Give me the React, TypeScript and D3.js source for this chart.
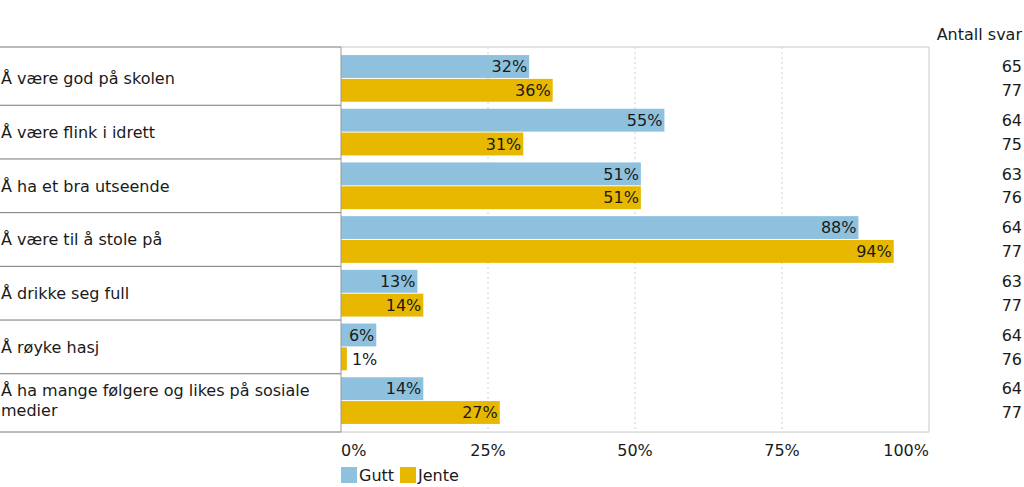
import React from "react";
import * as d3 from "d3";

const categories = [
  "Å være god på skolen",
  "Å være flink i idrett",
  "Å ha et bra utseende",
  "Å være til å stole på",
  "Å drikke seg full",
  "Å røyke hasj",
  "Å ha mange følgere og likes på sosiale medier",
];
const seriesNames = ["Gutt", "Jente"];
const gutt = [32, 55, 51, 88, 13, 6, 14];
const jente = [36, 31, 51, 94, 14, 1, 27];
const guttN = [65, 64, 63, 64, 63, 64, 64];
const jenteN = [77, 75, 76, 77, 77, 76, 77];
const xTicks = [0, 25, 50, 75, 100];
const countTitle = "Antall svar";

const colors = ["#8ec1de", "#e8b800"];
const FONT = "'DejaVu Sans', Verdana, sans-serif";
const FS = 16;

function wrap(text: string, maxW: number): string[] {
  const c = document.createElement("canvas").getContext("2d")!;
  c.font = `${FS}px ${FONT}`;
  const words = text.split(" ");
  const lines: string[] = [];
  let cur = "";
  for (const w of words) {
    const t = cur ? cur + " " + w : w;
    if (c.measureText(t).width > maxW && cur) {
      lines.push(cur);
      cur = w;
    } else cur = t;
  }
  if (cur) lines.push(cur);
  return lines;
}

export default function App() {
  const W = 1024, H = 487;
  const left = 341, right = 929, top = 47, bottom = 432;
  const x = d3.scaleLinear().domain([0, 100]).range([left, right]);
  const y = d3.scaleBand<string>().domain(categories).range([top, bottom]).paddingInner(0.13).paddingOuter(0.15);
  const ys = d3.scaleBand<string>().domain(seriesNames).range([0, y.bandwidth()]).paddingInner(0.04);
  const values = [gutt, jente];
  const counts = [guttN, jenteN];
  const step = y.step();

  return (
    <svg width={W} height={H} style={{ position: "absolute", left: 0, top: 0, fontFamily: FONT }}>
      <rect width={W} height={H} fill="#fff" />
      {/* grid */}
      {xTicks.slice(1, -1).map((t) => (
        <line key={t} x1={x(t)} x2={x(t)} y1={top} y2={bottom} stroke="#d0d0d0" strokeDasharray="2,3" />
      ))}
      {/* plot frame */}
      <line x1={left} x2={right} y1={top} y2={top} stroke="#c8c8c8" />
      <line x1={right} x2={right} y1={top} y2={bottom} stroke="#c8c8c8" />
      <line x1={left} x2={right} y1={bottom} y2={bottom} stroke="#c8c8c8" />
      {/* left table lines */}
      {categories.slice(1).map((c, i) => {
        const ly = y(c)! - (step - y.bandwidth()) / 2;
        return <line key={"sep" + i} x1={0} x2={left} y1={ly} y2={ly} stroke="#777" />;
      })}
      <line x1={0} x2={left} y1={top} y2={top} stroke="#777" />
      <line x1={0} x2={left} y1={bottom} y2={bottom} stroke="#777" />
      {/* bars */}
      {categories.map((c, i) =>
        seriesNames.map((s, si) => {
          const v = values[si][i];
          const by = y(c)! + ys(s)!;
          const bh = ys.bandwidth();
          const x1 = x(v);
          const inside = x1 - left > 30;
          return (
            <g key={c + s}>
              <rect x={left} y={by} width={x1 - left} height={bh} fill={colors[si]} />
              <text
                x={inside ? x1 - 2 : x1 + 5}
                y={by + bh / 2}
                dy="0.36em"
                textAnchor={inside ? "end" : "start"}
                fontSize={FS}
                fill="#1a1a1a"
              >
                {v}%
              </text>
              <text x={1022} y={by + bh / 2} dy="0.36em" textAnchor="end" fontSize={FS} fill="#1a1a1a">
                {counts[si][i]}
              </text>
            </g>
          );
        })
      )}
      {/* axis line */}
      <line x1={left} x2={left} y1={top} y2={bottom} stroke="#999" />
      {/* category labels */}
      {categories.map((c) => {
        const lines = wrap(c, 325);
        const cy = y(c)! + y.bandwidth() / 2;
        const lh = 20;
        return (
          <text key={c} fontSize={FS} fill="#1a1a1a">
            {lines.map((l, li) => (
              <tspan key={li} x={1} y={cy + (li - (lines.length - 1) / 2) * lh} dy="0.36em">
                {l}
              </tspan>
            ))}
          </text>
        );
      })}
      {/* x ticks */}
      {xTicks.map((t, i) => (
        <text
          key={t}
          x={x(t)}
          y={456}
          textAnchor={i === 0 ? "start" : i === xTicks.length - 1 ? "end" : "middle"}
          fontSize={FS}
          fill="#1a1a1a"
        >
          {t}%
        </text>
      ))}
      <text x={1022} y={40} textAnchor="end" fontSize={FS} fill="#1a1a1a">
        {countTitle}
      </text>
      {/* legend */}
      {(() => {
        let lx = left;
        return seriesNames.map((s, si) => {
          const g = (
            <g key={s}>
              <rect x={lx} y={467} width={16} height={16} fill={colors[si]} />
              <text x={lx + 18} y={481} fontSize={FS} fill="#1a1a1a">
                {s}
              </text>
            </g>
          );
          lx += 59;
          return g;
        });
      })()}
    </svg>
  );
}
